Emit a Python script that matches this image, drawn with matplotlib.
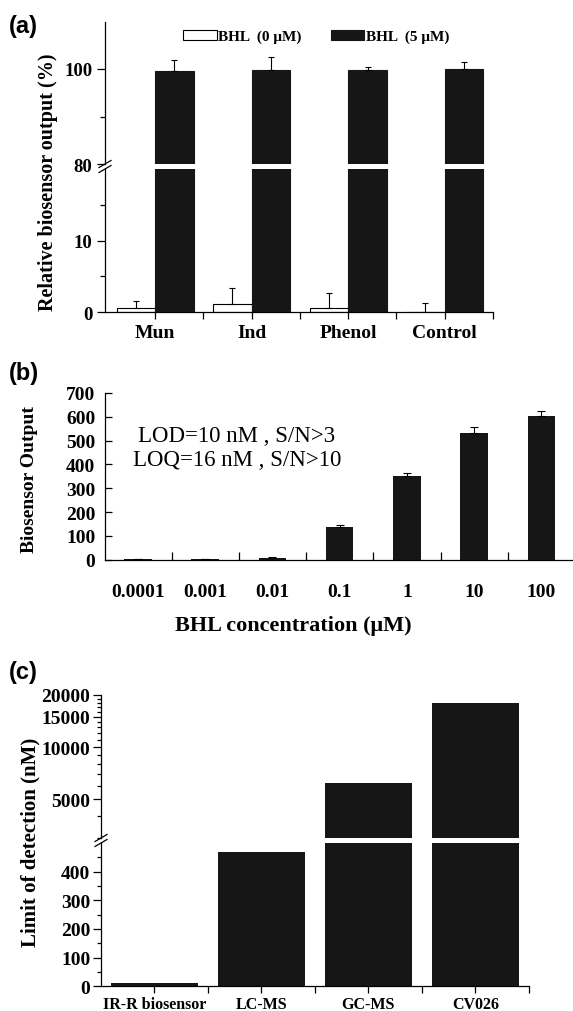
import numpy as np
import matplotlib.pyplot as plt
from matplotlib.lines import Line2D
from matplotlib.ticker import NullFormatter

plt.rcParams['font.family'] = ['Liberation Serif', 'DejaVu Serif']
plt.rcParams['axes.linewidth'] = 0.9
plt.rcParams['xtick.major.width'] = 0.9
plt.rcParams['ytick.major.width'] = 0.9
plt.rcParams['xtick.minor.width'] = 0.9
plt.rcParams['ytick.minor.width'] = 0.9

# (a) interference test, relative output (%)
groups_a = ["Mun", "Ind", "Phenol", "Control"]
bhl0_mean = [0.55, 1.1, 0.55, 0.05]
bhl0_err = [1.05, 2.3, 2.15, 1.2]
bhl5_mean = [99.6, 99.7, 99.7, 100.0]
bhl5_err = [2.3, 2.9, 0.7, 1.4]

# (b) dose response
conc_labels = ["0.0001", "0.001", "0.01", "0.1", "1", "10", "100"]
output_b = [1, 1, 7, 136, 352, 531, 604]
output_err = [0, 0, 3, 10, 14, 26, 19]

# (c) limit of detection comparison (nM)
methods = ["IR-R biosensor", "LC-MS", "GC-MS", "CV026"]
lod_nM = [12, 468, 6200, 18000]

W, H = 573, 1012
DARK = "#161616"
fig = plt.figure(figsize=(W / 100, H / 100), dpi=100)


def px_axes(x0, x1, y_top, y_bot):
    return fig.add_axes([x0 / W, 1 - y_bot / H, (x1 - x0) / W, (y_bot - y_top) / H])


def break_marks(x, y):
    for dy in (-2.5, 2.5):
        fig.add_artist(Line2D([(x - 6) / W, (x + 6) / W],
                              [1 - (y + dy + 3.5) / H, 1 - (y + dy - 3.5) / H],
                              color="k", lw=0.9))


bold = dict(fontweight="bold")

# ---------------- panel (a) ----------------
a_hi = px_axes(105, 493, 22.5, 165)
a_lo = px_axes(105, 493, 170, 313)
xa = np.arange(len(groups_a))
for ax in (a_hi, a_lo):
    b0 = ax.bar(xa - 0.2, bhl0_mean, 0.4, color="white", edgecolor="k", lw=0.8,
                yerr=[np.zeros(4), bhl0_err], capsize=2.5,
                error_kw=dict(elinewidth=0.8, capthick=0.8, ecolor="k"),
                label="BHL  (0 \u03bcM)")
    b5 = ax.bar(xa + 0.2, bhl5_mean, 0.4, color=DARK, edgecolor=DARK, lw=0.8,
                yerr=[np.zeros(4), bhl5_err], capsize=2.5,
                error_kw=dict(elinewidth=0.8, capthick=0.8, ecolor="k"),
                label="BHL  (5 \u03bcM)")
    ax.set_xlim(-0.52, 3.5)
    ax.spines[["top", "right"]].set_visible(False)

a_hi.set_ylim(80, 110)
a_hi.spines["bottom"].set_visible(False)
a_hi.set_xticks([])
a_hi.set_yticks([80, 100])
a_hi.set_yticks([90], minor=True)
a_lo.set_ylim(0, 20)
a_lo.set_yticks([0, 10])
a_lo.set_yticks([5, 15], minor=True)
a_lo.set_xticks(xa, groups_a)
a_lo.set_xticks([0.5, 1.5, 2.5, 3.5], minor=True)
for ax in (a_hi, a_lo):
    ax.tick_params(axis="y", which="major", direction="out", length=6, pad=3, labelsize=13.5)
    ax.tick_params(axis="y", which="minor", direction="out", length=3.5)
    for t in ax.get_yticklabels():
        t.set_fontweight("bold")
a_lo.tick_params(axis="x", which="both", direction="out", length=5, pad=4, labelsize=14)
for t in a_lo.get_xticklabels():
    t.set_fontweight("bold")
break_marks(105, 167.5)

a_hi.legend(handles=[b0, b5], ncol=2, loc="upper left", frameon=False,
            bbox_to_anchor=(183 / W, 1 - 30.5 / H), bbox_transform=fig.transFigure,
            borderpad=0, borderaxespad=0, handlelength=2.2, handleheight=0.7,
            handletextpad=0.1, columnspacing=1.9,
            prop=dict(size=11, weight="bold"))
fig.text(48 / W, 1 - 182 / H, "Relative biosensor output (%)", rotation=90,
         ha="center", va="center", fontsize=14.5, **bold)

# ---------------- panel (b) ----------------
ax_b = px_axes(105, 573, 394, 560.7)
xb = np.arange(len(conc_labels))
ax_b.bar(xb, output_b, 0.41, color=DARK, yerr=[np.zeros(len(xb)), output_err],
         capsize=2.8, error_kw=dict(elinewidth=0.8, capthick=0.8, ecolor="k"))
ax_b.set_xlim(-0.49, 6.47)
ax_b.set_ylim(0, 700)
ax_b.spines[["top", "right"]].set_visible(False)
ax_b.set_xticks(xb, conc_labels)
ax_b.set_xticks(xb[:-1] + 0.5, minor=True)
ax_b.set_yticks(np.arange(0, 701, 100))
ax_b.tick_params(axis="x", which="major", length=0, pad=17, labelsize=14)
ax_b.tick_params(axis="x", which="minor", direction="in", length=6)
ax_b.tick_params(axis="y", direction="in", length=5, pad=7, labelsize=14)
for t in ax_b.get_xticklabels() + ax_b.get_yticklabels():
    t.set_fontweight("bold")
ax_b.text(0.282, 0.748, "LOD=10 nM , S/N>3", transform=ax_b.transAxes,
          ha="center", va="center", fontsize=16.5)
ax_b.text(0.282, 0.604, "LOQ=16 nM , S/N>10", transform=ax_b.transAxes,
          ha="center", va="center", fontsize=16.5)
fig.text(30 / W, 1 - 480 / H, "Biosensor Output", rotation=90,
         ha="center", va="center", fontsize=14, **bold)
fig.text(293 / W, 1 - 626 / H, "BHL concentration (\u03bcM)",
         ha="center", va="center", fontsize=16, **bold)

# ---------------- panel (c) ----------------
c_hi = px_axes(100.7, 529, 696, 838.7)
c_lo = px_axes(100.7, 529, 844, 987.3)
xc = np.arange(len(methods))
for ax in (c_hi, c_lo):
    ax.bar(xc, lod_nM, 0.81, color=DARK)
    ax.set_xlim(-0.5, 3.5)
    ax.spines[["top", "right"]].set_visible(False)

c_hi.set_yscale("log")
c_hi.set_ylim(3000, 20000)
c_hi.spines["bottom"].set_visible(False)
c_hi.set_xticks([])
c_hi.set_yticks([5000, 10000, 15000, 20000], ["5000", "10000", "15000", "20000"])
c_hi.set_yticks([v for v in range(3000, 20000, 1000) if v % 5000], minor=True)
c_hi.yaxis.set_minor_formatter(NullFormatter())
c_lo.set_ylim(0, 500)
c_lo.set_yticks(np.arange(0, 401, 100))
c_lo.set_yticks(np.arange(50, 500, 100), minor=True)
c_lo.set_xticks(xc, methods)
c_lo.set_xticks([0.5, 1.5, 2.5, 3.5], minor=True)
for ax in (c_hi, c_lo):
    ax.tick_params(axis="y", which="major", direction="out", length=6, pad=1.5, labelsize=14)
    ax.tick_params(axis="y", which="minor", direction="out", length=3)
    for t in ax.get_yticklabels():
        t.set_fontweight("bold")
c_lo.tick_params(axis="x", which="both", direction="out", length=5, pad=2, labelsize=11.5)
for t in c_lo.get_xticklabels():
    t.set_fontweight("bold")
break_marks(101, 841.5)
fig.text(30 / W, 1 - 842 / H, "Limit of detection (nM)", rotation=90,
         ha="center", va="center", fontsize=15, **bold)

# panel letters
for label, y in (("(a)", 27), ("(b)", 374), ("(c)", 672)):
    fig.text(9 / W, 1 - y / H, label, family=["Liberation Sans", "DejaVu Sans"],
             fontsize=17, fontweight="bold", ha="left", va="center")

fig.savefig("out.png", dpi=100)
